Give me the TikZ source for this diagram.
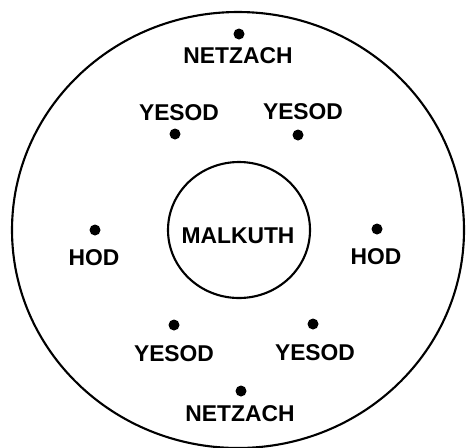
\documentclass[tikz,border=0pt]{standalone}
\usepackage{fontspec}
\setmainfont{Liberation Sans}
\usepackage{tikz}
\usetikzlibrary{positioning}

\begin{document}
\begin{tikzpicture}[x=0.02cm, y=-0.02cm,
    sefdot/.style={circle, fill=black, inner sep=0pt, minimum size=0.22cm},
    sefname/.style={font=\bfseries\fontsize{13}{15}\selectfont, inner sep=1pt}]
    \useasboundingbox (0,0) rectangle (466,447);
    % outer and inner rings
    \draw[line width=1.2pt] (238,230) ellipse [x radius=226, y radius=218];
    \draw[line width=1.2pt] (239,230) ellipse [x radius=71, y radius=68];
    \node[sefname] (malkuth) at (238,236) {MALKUTH};
    % dots
    \node[sefdot] (netzachTop) at (239,34) {};
    \node[sefdot] (yesodUL) at (175,134) {};
    \node[sefdot] (yesodUR) at (298,135) {};
    \node[sefdot] (hodL) at (95,230) {};
    \node[sefdot] (hodR) at (377,229) {};
    \node[sefdot] (yesodLL) at (174,325) {};
    \node[sefdot] (yesodLR) at (313,324) {};
    \node[sefdot] (netzachBot) at (241,391) {};
    % labels
    \node[sefname] (lNetzachTop) at (238,56) {NETZACH};
    \node[sefname] (lYesodUL) at (179,113) {YESOD};
    \node[sefname] (lYesodUR) at (303,112) {YESOD};
    \node[sefname] (lHodL) at (94,258) {HOD};
    \node[sefname] (lHodR) at (376,257) {HOD};
    \node[sefname] (lYesodLL) at (174,354) {YESOD};
    \node[sefname] (lYesodLR) at (315,353) {YESOD};
    \node[sefname] (lNetzachBot) at (240,414) {NETZACH};
\end{tikzpicture}
\end{document}
